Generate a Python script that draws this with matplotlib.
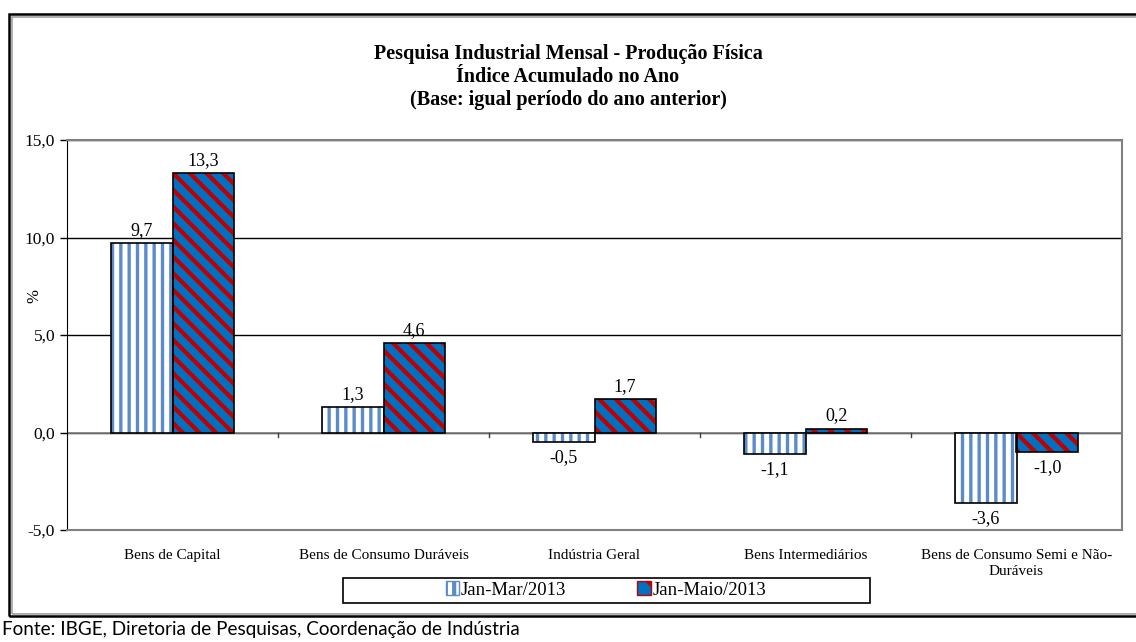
import matplotlib.pyplot as plt
import matplotlib.patches as mpatches
import numpy as np

categorias = ["Bens de Capital", "Bens de Consumo Duráveis", "Indústria Geral",
              "Bens Intermediários", "Bens de Consumo Semi e Não-\nDuráveis"]
jan_mar = [9.7, 1.3, -0.5, -1.1, -3.6]
jan_maio = [13.3, 4.6, 1.7, 0.2, -1.0]
series = ["Jan-Mar/2013", "Jan-Maio/2013"]
yticks = [-5, 0, 5, 10, 15]

plt.rcParams['font.family'] = 'Liberation Serif'
plt.rcParams['font.size'] = 12
plt.rcParams['hatch.linewidth'] = 2.4

W, H = 1136, 642
fig = plt.figure(figsize=(W / 100, H / 100), dpi=100)
ax = fig.add_axes([67 / W, 1 - 530 / H, (1122 - 67) / W, (530 - 140) / H])

x = np.arange(len(categorias))
w = 0.29

# serie 1: branco com listras verticais azuis
ax.bar(x - w / 2, jan_mar, w, color='white', edgecolor='#5B8BC9', hatch='||', linewidth=0, zorder=3)
ax.bar(x - w / 2, jan_mar, w, fill=False, edgecolor='black', linewidth=1.2, zorder=4)
# serie 2: azul com listras diagonais vermelhas
plt.rcParams['hatch.linewidth'] = 3.0
ax.bar(x + w / 2, jan_maio, w, color='#0070C0', edgecolor='#C00000', hatch='\\\\', linewidth=0, zorder=3)
ax.bar(x + w / 2, jan_maio, w, fill=False, edgecolor='black', linewidth=1.2, zorder=4)

def fmt(v):
    return f"{v:.1f}".replace('.', ',')

for xs, vals in ((x - w / 2, jan_mar), (x + w / 2, jan_maio)):
    for xi, v in zip(xs, vals):
        if v >= 0:
            ax.annotate(fmt(v), (xi, v), xytext=(0, 3), textcoords='offset points',
                        ha='center', va='bottom', fontsize=13)
        else:
            ax.annotate(fmt(v), (xi, v), xytext=(0, -5), textcoords='offset points',
                        ha='center', va='top', fontsize=13)

ax.set_xlim(-0.5, len(categorias) - 0.5)
ax.set_ylim(-5, 15)
ax.set_yticks(yticks)
ax.set_yticklabels([fmt(v) for v in yticks], fontsize=12.5)
ax.tick_params(axis='y', length=5, width=1)
ax.yaxis.grid(True, color='black', linewidth=1, zorder=0)
ax.set_axisbelow(True)

ax.set_xticks(x)
ax.set_xticklabels(categorias, fontsize=11, linespacing=1.3)
ax.tick_params(axis='x', length=0, pad=14)
ax.axhline(0, color='#808080', linewidth=1.2, zorder=2)
for b in np.arange(0.5, len(categorias) - 0.5):
    ax.plot([b, b], [0, -0.25], color='#404040', linewidth=1, zorder=2)

for s in ('top', 'right', 'bottom'):
    ax.spines[s].set_color('#808080')
    ax.spines[s].set_linewidth(1.5)
ax.spines['left'].set_color('black')

ax.set_ylabel('%', fontsize=12)
ax.yaxis.set_label_coords((42 - 67) / 1055, (530 - 296) / 390)

fig.text(568 / W, 1 - 77 / H, "Pesquisa Industrial Mensal - Produção Física\nÍndice Acumulado no Ano\n(Base: igual período do ano anterior)",
         ha='center', va='center', fontsize=14.5, fontweight='bold', linespacing=1.2)

# legenda
handles = [mpatches.Patch(facecolor='white', edgecolor='#5B8BC9', hatch='||', label=series[0]),
           mpatches.Patch(facecolor='#0070C0', edgecolor='#C00000', hatch='\\', label=series[1])]
fig.legend(handles=handles, loc='center', bbox_to_anchor=(606 / W, 1 - 590 / H), ncol=2,
           frameon=False, fontsize=13.5, handlelength=0.7, handleheight=0.7, handletextpad=0.1,
           columnspacing=3.8)
fig.patches.append(mpatches.Rectangle((343 / W, 1 - 603 / H), (870 - 343) / W, 25 / H,
                                      transform=fig.transFigure, fill=False, edgecolor='black', linewidth=1.2))

# moldura dupla
fig.patches.append(mpatches.Rectangle((9 / W, 1 - 616 / H), 1140 / W, (616 - 14) / H,
                                      transform=fig.transFigure, fill=False, edgecolor='black', linewidth=1.8))
fig.patches.append(mpatches.Rectangle((11.5 / W, 1 - 613.5 / H), 1140 / W, (613.5 - 16.5) / H,
                                      transform=fig.transFigure, fill=False, edgecolor='#A0A0A0', linewidth=1.2))

fig.text(2 / W, 1 - 630 / H, "Fonte: IBGE, Diretoria de Pesquisas, Coordenação de Indústria",
         ha='left', va='center', fontsize=13.6, family='Lato')

fig.savefig("out.png", dpi=100)
